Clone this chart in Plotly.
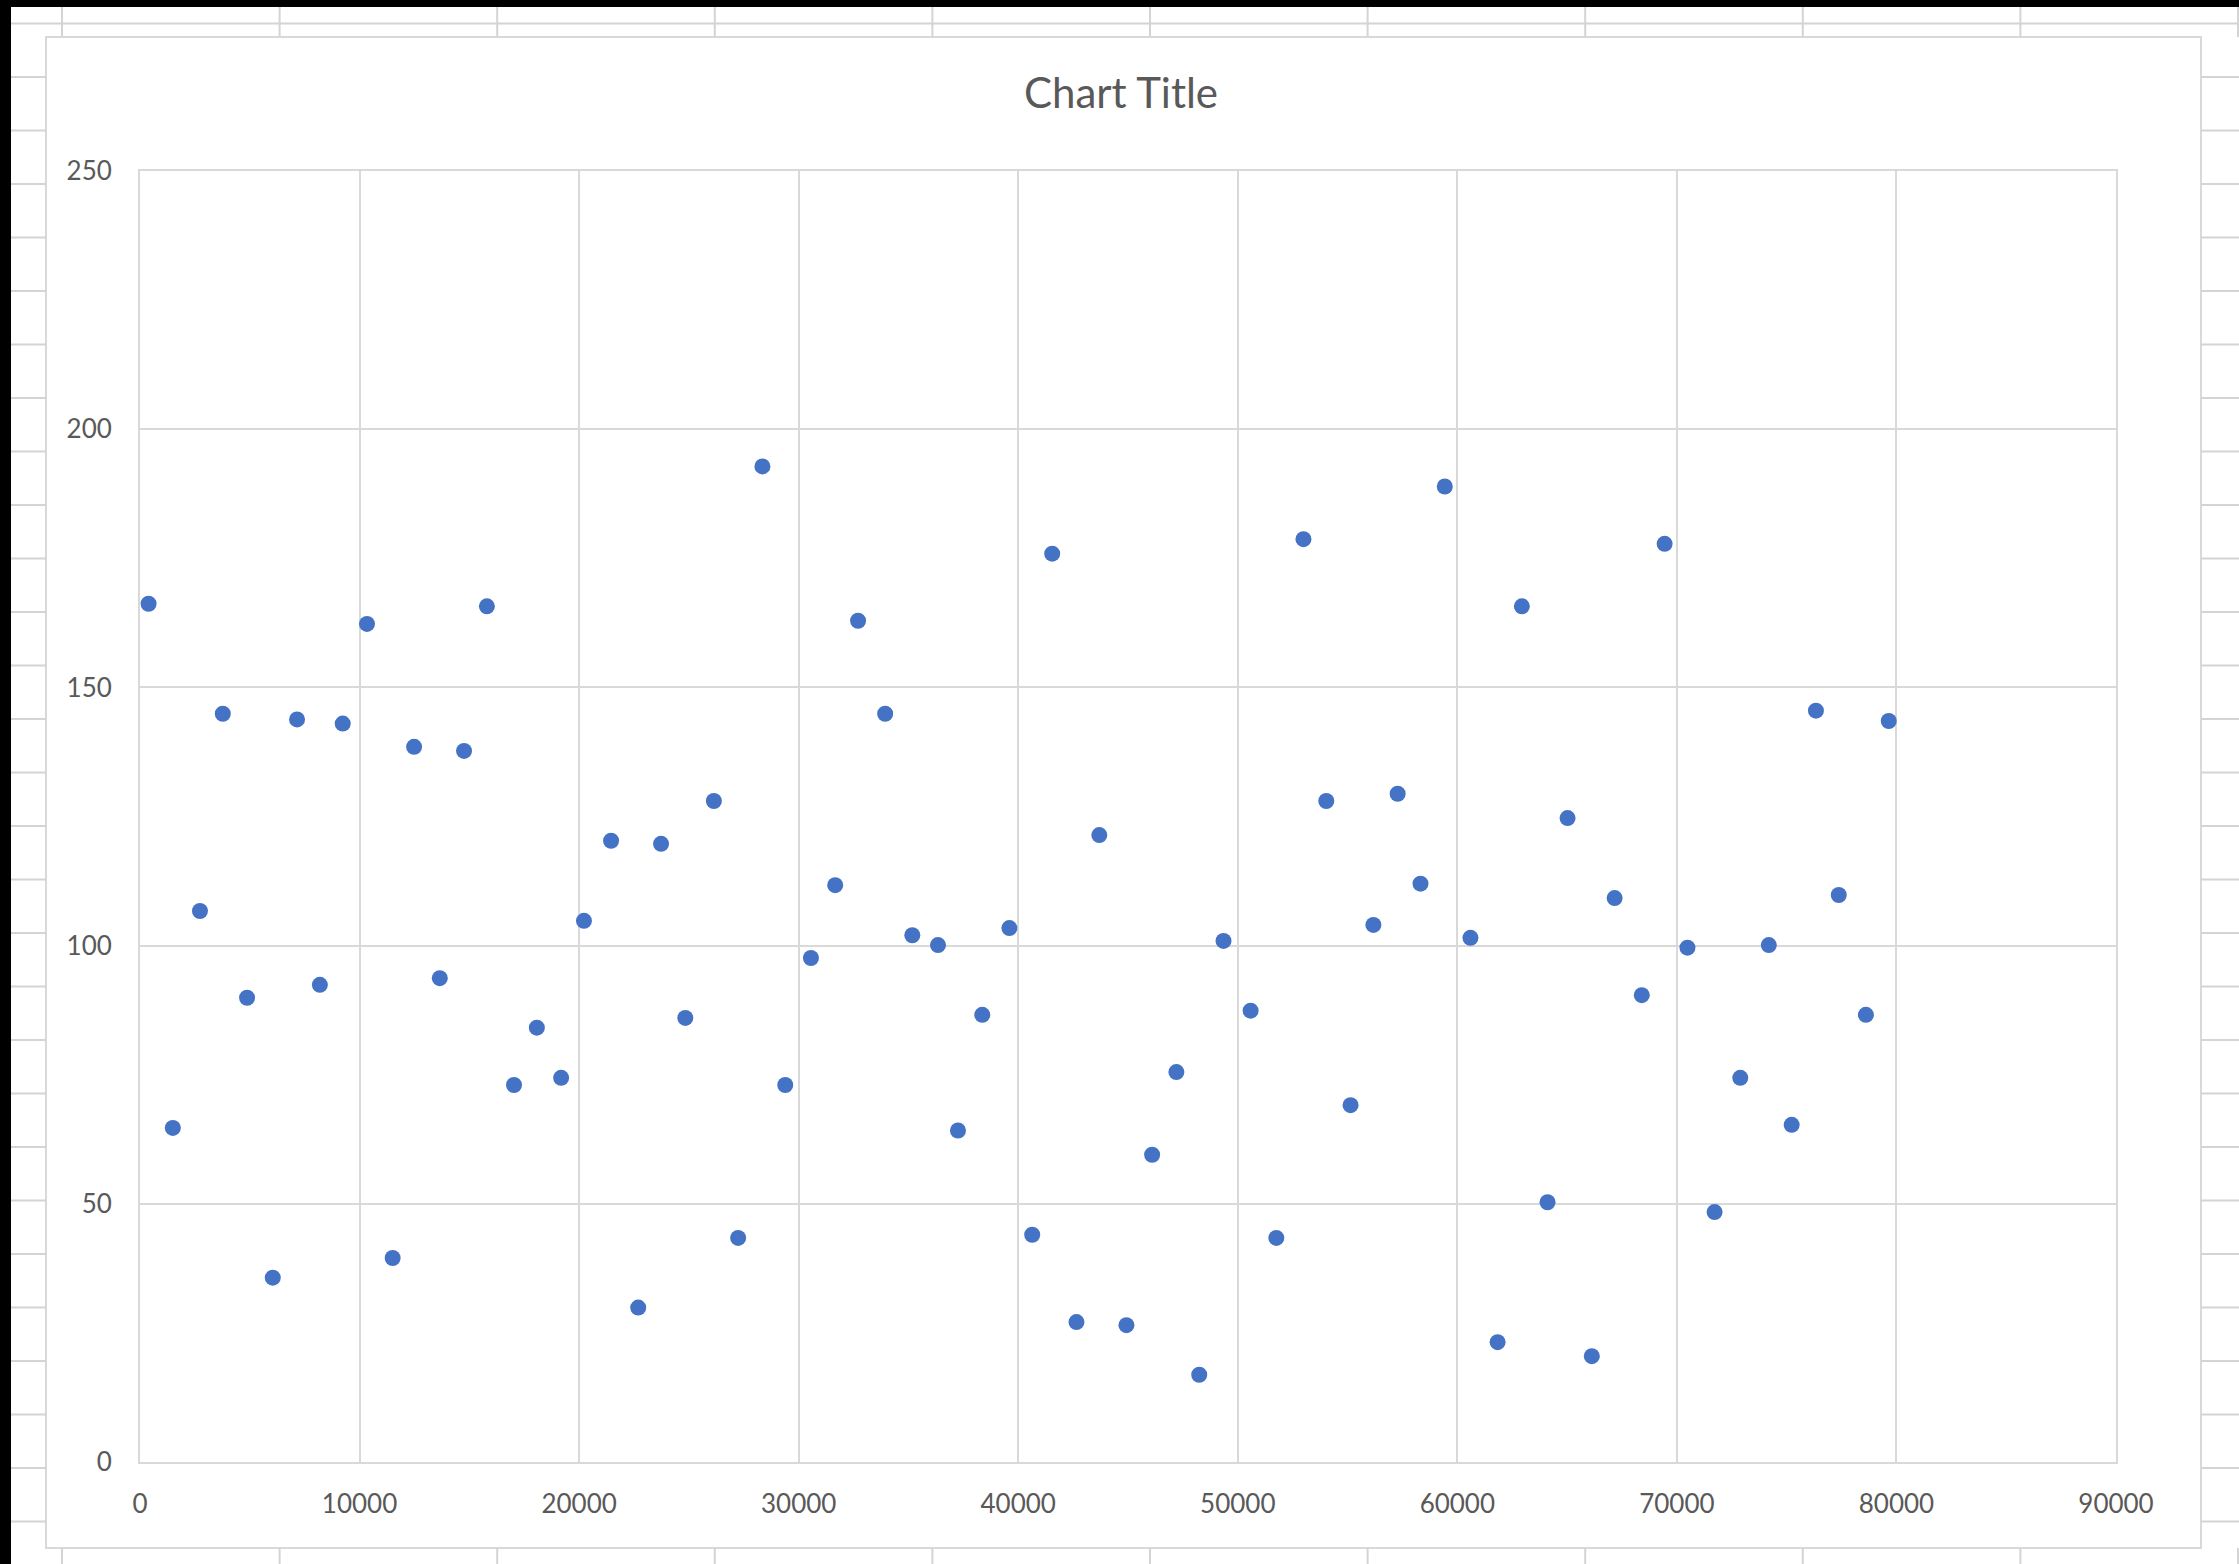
import plotly.graph_objects as go

# ---- data ----
x_values = [390, 1495, 2731, 3771, 4876, 6047, 7152, 8192, 9233, 10338, 11508, 12484,
            13654, 14759, 15800, 17035, 18075, 19181, 20221, 21456, 22692, 23732, 24837,
            26138, 27243, 28349, 29389, 30559, 31664, 32705, 33940, 35176, 36346, 37256,
            38362, 39597, 40637, 41547, 42653, 43693, 44928, 46099, 47204, 48244, 49350,
            50585, 51756, 52991, 54031, 55137, 56177, 57282, 58322, 59428, 60598, 61834,
            62939, 64109, 65020, 66125, 67165, 68401, 69441, 70481, 71717, 72887, 74187,
            75228, 76333, 77373, 78609, 79649]
y_values = [166.2, 64.7, 106.7, 144.9, 89.9, 35.7, 143.8, 92.4, 143.0, 162.3, 39.5, 138.5,
            93.7, 137.7, 165.7, 73.0, 84.1, 74.4, 104.8, 120.3, 29.9, 119.7, 86.0,
            128.0, 43.4, 192.8, 73.0, 97.6, 111.7, 162.9, 144.9, 102.0, 100.1, 64.2,
            86.6, 103.4, 44.0, 175.9, 27.1, 121.4, 26.5, 59.5, 75.5, 16.9, 100.9,
            87.4, 43.4, 178.7, 128.0, 69.1, 104.0, 129.4, 112.0, 188.9, 101.5, 23.2,
            165.7, 50.3, 124.7, 20.5, 109.2, 90.4, 177.8, 99.6, 48.4, 74.4, 100.1,
            65.3, 145.5, 109.8, 86.6, 143.5]
x_ticks = [0, 10000, 20000, 30000, 40000, 50000, 60000, 70000, 80000, 90000]
y_ticks = [0, 50, 100, 150, 200, 250]
chart_title = "Chart Title"

# ---- page geometry (pixels) ----
W, H = 2239, 1564
PL, PR, PT, PB = 140, 2116, 171, 1462  # plot area edges

def px(xp):
    return (xp - PL) / (PR - PL)

def py(yp):
    return (PB - yp) / (PB - PT)

TEXT = "#595959"
GRID = "#d9d9d9"
SHEET = "#d4d4d4"
FONT = "Lato, Carlito, Calibri, sans-serif"

fig = go.Figure()
fig.add_trace(go.Scatter(
    x=x_values, y=y_values, mode="markers",
    marker=dict(color="#4472C4", size=16, line=dict(width=0)),
    showlegend=False, hoverinfo="x+y",
))

shapes = []

def line(x0, y0, x1, y1, color=SHEET, width=2):
    shapes.append(dict(type="line", xref="paper", yref="paper",
                       x0=px(x0), y0=py(y0), x1=px(x1), y1=py(y1),
                       line=dict(color=color, width=width), layer="above"))

def rect(x0, y0, x1, y1, fill, color=None, width=0):
    shapes.append(dict(type="rect", xref="paper", yref="paper",
                       x0=px(x0), y0=py(y0), x1=px(x1), y1=py(y1),
                       fillcolor=fill, line=dict(color=color or fill, width=width),
                       layer="above"))

# spreadsheet background: row lines in the side margins
BOX_L, BOX_R, BOX_T, BOX_B = 46, 2201, 37, 1548
k = 0
while True:
    yrow = 23.5 + 53.5 * k
    if yrow > H:
        break
    if yrow < BOX_T:
        line(11, yrow, W, yrow)
    else:
        line(11, yrow, BOX_L, yrow)
        line(BOX_R, yrow, W, yrow)
    k += 1
# column lines above and below the chart box
for c in range(11):
    xc = 62 + 217.6 * c
    line(xc, 7, xc, BOX_T)
    line(xc, BOX_B, xc, H)
# black edges of the screenshot
rect(0, 0, 11, H, "black")
rect(0, 0, W, 7, "black")
# chart box border
shapes.append(dict(type="rect", xref="paper", yref="paper",
                   x0=px(BOX_L), y0=py(BOX_T), x1=px(BOX_R), y1=py(BOX_B),
                   fillcolor="rgba(0,0,0,0)", line=dict(color=GRID, width=2),
                   layer="below"))

fig.update_layout(
    width=W, height=H,
    margin=dict(l=PL, r=W - PR, t=PT, b=H - PB, autoexpand=False),
    paper_bgcolor="white", plot_bgcolor="white",
    font=dict(family=FONT, color=TEXT, size=26),
    title=dict(text=chart_title, x=1121 / W, xanchor="center",
               xref="container", yref="container",
               y=1 - 93 / H, yanchor="middle",
               font=dict(family=FONT, size=42, color=TEXT)),
    shapes=shapes,
)
fig.update_xaxes(
    range=[0, 90000], tickvals=x_ticks, ticktext=[str(v) for v in x_ticks],
    showgrid=True, gridcolor=GRID, gridwidth=2,
    showline=True, linecolor=GRID, linewidth=2, mirror=True,
    zeroline=False, ticks="", ticklabelstandoff=18,
    tickfont=dict(family=FONT, size=26, color=TEXT),
)
fig.update_yaxes(
    range=[0, 250], tickvals=y_ticks, ticktext=[str(v) for v in y_ticks],
    showgrid=True, gridcolor=GRID, gridwidth=2,
    showline=True, linecolor=GRID, linewidth=2, mirror=True,
    zeroline=False, ticks="", ticklabelstandoff=21,
    tickfont=dict(family=FONT, size=26, color=TEXT),
)

fig.write_html(
    "out.html",
    config={"displayModeBar": False},
    post_script="document.body.style.margin='0';document.body.style.padding='0';"
                "document.documentElement.style.margin='0';",
)
